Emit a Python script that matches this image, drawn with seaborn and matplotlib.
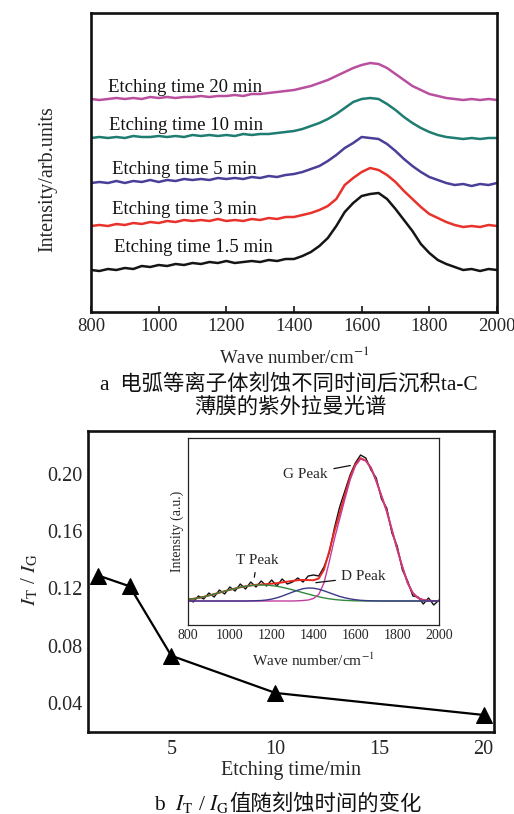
import matplotlib
matplotlib.use("Agg")
import matplotlib.pyplot as plt
import seaborn as sns
import pandas as pd

sns.set_style("white")
plt.rcParams["font.family"] = ["Liberation Serif", "Noto Sans CJK SC", "DejaVu Sans"]
plt.rcParams["mathtext.fontset"] = "stix"
plt.rcParams["axes.unicode_minus"] = False

# ---------------- data ----------------
WAVENUMBER = list(range(800, 2001, 25))

SPEC_1_5 = [42, 41, 43, 42, 44, 43, 46, 45, 47, 46, 48, 47, 49, 48, 50, 49, 51, 49, 50, 51,
            50, 52, 51, 53, 53, 56, 60, 66, 74, 86, 100, 109, 116, 118, 119, 113, 103, 92, 81,
            68, 59, 52, 48, 45, 42, 43, 41, 43, 42]
SPEC_3 = [86, 87, 86, 88, 87, 89, 88, 90, 89, 91, 90, 92, 91, 92, 91, 93, 91, 92, 91, 93,
          92, 94, 93, 95, 95, 97, 99, 102, 106, 113, 127, 134, 140, 144, 142, 137, 130, 121,
          113, 105, 98, 94, 90, 87, 85, 86, 85, 87, 86]
SPEC_5 = [129, 130, 129, 131, 129, 131, 130, 132, 130, 132, 131, 133, 132, 133, 132, 134,
          133, 134, 133, 135, 134, 136, 135, 137, 138, 140, 143, 146, 151, 157, 164, 169, 175,
          174, 173, 168, 161, 153, 146, 140, 135, 132, 129, 127, 128, 126, 128, 127, 129]
SPEC_10 = [174, 175, 174, 175, 174, 176, 175, 175, 176, 175, 176, 175, 177, 176, 177, 176,
           177, 176, 178, 177, 178, 178, 179, 180, 181, 183, 186, 189, 193, 198, 204, 210,
           213, 214, 213, 208, 202, 195, 189, 184, 180, 177, 175, 174, 173, 174, 173, 174, 174]
SPEC_20 = [213, 212, 213, 214, 213, 214, 213, 215, 214, 215, 214, 215, 215, 216, 215, 216,
           216, 217, 216, 218, 218, 219, 220, 221, 222, 224, 226, 229, 232, 236, 240, 244,
           247, 249, 248, 244, 238, 232, 226, 222, 218, 216, 214, 213, 212, 213, 212, 213, 212]

SPECTRA = [SPEC_1_5, SPEC_3, SPEC_5, SPEC_10, SPEC_20]
SPEC_LABELS = ["Etching time 1.5 min", "Etching time 3 min", "Etching time 5 min",
               "Etching time 10 min", "Etching time 20 min"]
SPEC_COLORS = ["#151515", "#e8322b", "#4a3f98", "#1e7c70", "#b9509f"]

# inset: raw spectrum and fitted peaks (height above baseline)
INSET_BASE = 24
INSET_RAW = [27, 23, 29, 26, 32, 28, 35, 31, 38, 34, 41, 36, 43, 38, 44, 39, 45, 39, 46, 41,
             43, 47, 43, 49, 50, 49, 58, 72, 97, 118, 134, 150, 162, 170, 167, 155, 147, 126,
             117, 92, 79, 55, 44, 29, 28, 21, 27, 20, 25]
PEAK_T = [1.5, 2.2, 3.1, 4.2, 5.5, 6.9, 8.3, 9.8, 11.2, 12.5, 13.7, 14.7, 15.4, 15.9, 16.0,
          15.9, 15.4, 14.7, 13.7, 12.5, 11.2, 9.8, 8.3, 6.9, 5.5, 4.2, 3.1, 2.2, 1.5, 1.0,
          0.6, 0.4, 0.2, 0.1, 0, 0, 0, 0, 0, 0, 0, 0, 0, 0, 0, 0, 0, 0, 0]
PEAK_D = [0, 0, 0, 0, 0, 0, 0, 0, 0, 0, 0, 0, 0.1, 0.3, 0.5, 1.0, 1.9, 3.2, 4.9, 6.9, 8.9,
          10.8, 12.3, 13.0, 12.8, 11.8, 10.2, 8.3, 6.4, 4.6, 3.2, 2.1, 1.3, 0.7, 0.4, 0.2,
          0.1, 0, 0, 0, 0, 0, 0, 0, 0, 0, 0, 0, 0]
PEAK_G = [0, 0, 0, 0, 0, 0, 0, 0, 0, 0, 0, 0, 0, 0, 0, 0, 0, 0, 0, 0, 0, 0.2, 0.5, 1.0,
          2.5, 6.5, 18, 39, 62, 82, 102, 121, 135, 142, 140, 133, 120, 105, 90, 71, 52, 34,
          18, 8, 3, 1, 0.3, 0, 0]

# panel b
ETCH_TIME = [1.5, 3, 5, 10, 20]
IT_IG = [0.129, 0.1215, 0.073, 0.047, 0.0316]

# ---------------- layout helpers ----------------
W, H = 514, 814


def box(l, t, r, b):
    return [l / W, 1 - b / H, (r - l) / W, (b - t) / H]


fig = plt.figure(figsize=(W / 100, H / 100), dpi=100)
fig.patch.set_facecolor("white")

# ---------------- panel a ----------------
axa = fig.add_axes(box(91, 13, 497, 312))
for vals, col in zip(SPECTRA, SPEC_COLORS):
    sns.lineplot(x=WAVENUMBER, y=vals, color=col, lw=1.8, ax=axa)
axa.set_xlim(800, 2000)
axa.set_ylim(0, 299)
axa.set_yticks([])
axa.set_xticks(list(range(800, 2001, 200)))
axa.tick_params(axis="x", direction="in", length=4, width=1.3, labelsize=13.5, pad=4,
                top=False, bottom=True)
for s in axa.spines.values():
    s.set_linewidth(1.9)
    s.set_color("#111111")

label_pos = [(868, 64), (862, 103), (862, 142), (853, 186), (850, 225)]
for (x, y), lab in zip(label_pos, SPEC_LABELS):
    axa.text(x, y, lab, fontsize=13.5, ha="left", va="center", color="#111111")

axa.set_xlabel("Wave number/cm$^{-1}$", fontsize=13.5, va="center")
axa.xaxis.set_label_coords(0.5, -(356 - 312) / 299)
axa.set_ylabel("Intensity/arb.units", fontsize=14.5, va="center")
axa.yaxis.set_label_coords((48 - 91) / 406, (312 - 179) / 299)

fig.text(289 / W, 1 - 384 / H, "a  电弧等离子体刻蚀不同时间后沉积ta-C", fontsize=15.4,
         ha="center", va="center", color="#111111")
fig.text(290 / W, 1 - 407 / H, "薄膜的紫外拉曼光谱", fontsize=15.4,
         ha="center", va="center", color="#111111")

# ---------------- panel b ----------------
axb = fig.add_axes(box(88, 431, 494, 732))
sns.lineplot(x=ETCH_TIME, y=IT_IG, color="black", lw=1.6, marker="^", markersize=12,
             markeredgecolor="black", ax=axb)
axb.set_xlim(1.0, 20.5)
axb.set_ylim(0.0197, 0.230)
axb.set_xticks([5, 10, 15, 20])
axb.set_yticks([0.04, 0.08, 0.12, 0.16, 0.20])
axb.set_yticklabels(["0.04", "0.08", "0.12", "0.16", "0.20"])
axb.tick_params(axis="both", direction="in", length=4, width=1.3, labelsize=14.5)
axb.tick_params(axis="x", pad=6)
axb.tick_params(axis="y", pad=4)
for s in axb.spines.values():
    s.set_linewidth(1.9)
    s.set_color("#111111")
axb.set_xlabel("Etching time/min", fontsize=14.5, va="center")
axb.xaxis.set_label_coords(0.5, -(770 - 732) / 301)
axb.set_ylabel(r"$I_\mathrm{T}$ / $I_\mathrm{G}$", fontsize=15, va="center")
axb.yaxis.set_label_coords((30 - 88) / 406, (732 - 580) / 301)

# caption b: math part and CJK part as separate texts sharing a baseline
cap_y = 1 - 810 / H
fig.text(229 / W, cap_y, r"b  $I_\mathrm{T}$ / $I_\mathrm{G}$", fontsize=15.5,
         ha="right", va="baseline", color="#111111")
fig.text(229 / W, cap_y, "值随刻蚀时间的变化", fontsize=15.4,
         ha="left", va="baseline", color="#111111")

# ---------------- inset ----------------
axi = fig.add_axes(box(188, 438, 439, 625))
total = [INSET_BASE + t + d + g for t, d, g in zip(PEAK_T, PEAK_D, PEAK_G)]
sns.lineplot(x=WAVENUMBER, y=INSET_RAW, color="#111111", lw=1.0, ax=axi)
sns.lineplot(x=WAVENUMBER, y=total, color="#e8281f", lw=1.4, ax=axi)
sns.lineplot(x=WAVENUMBER, y=[INSET_BASE + v for v in PEAK_T], color="#2f8a3c", lw=1.0, ax=axi)
sns.lineplot(x=WAVENUMBER, y=[INSET_BASE + v for v in PEAK_G], color="#c23d9e", lw=1.0, ax=axi)
sns.lineplot(x=WAVENUMBER, y=[INSET_BASE + v for v in PEAK_D], color="#3b3889", lw=1.0, ax=axi)
axi.set_xlim(800, 2000)
axi.set_ylim(0, 187)
axi.set_yticks([])
axi.set_xticks(list(range(800, 2001, 200)))
axi.tick_params(axis="x", direction="in", length=2.5, width=0.8, labelsize=10, pad=3)
for s in axi.spines.values():
    s.set_linewidth(0.9)
    s.set_color("#222222")
axi.set_xlabel("Wave number/cm$^{-1}$", fontsize=11, va="center")
axi.xaxis.set_label_coords(0.5, -(660 - 625) / 187)
axi.set_ylabel("Intensity (a.u.)", fontsize=10, va="center")
axi.yaxis.set_label_coords((177 - 188) / 251, 0.5)

arrow = dict(arrowstyle="-", color="#111111", lw=0.9)
axi.annotate("G Peak", xy=(1589, 160), xytext=(1362, 151), fontsize=11, ha="center",
             va="center", arrowprops=arrow)
axi.annotate("T Peak", xy=(1115, 45), xytext=(1130, 65), fontsize=11, ha="center",
             va="center", arrowprops=arrow)
axi.annotate("D Peak", xy=(1398, 42), xytext=(1640, 48), fontsize=11, ha="center",
             va="center", arrowprops=arrow)

fig.savefig("out.png", dpi=100, facecolor="white")
